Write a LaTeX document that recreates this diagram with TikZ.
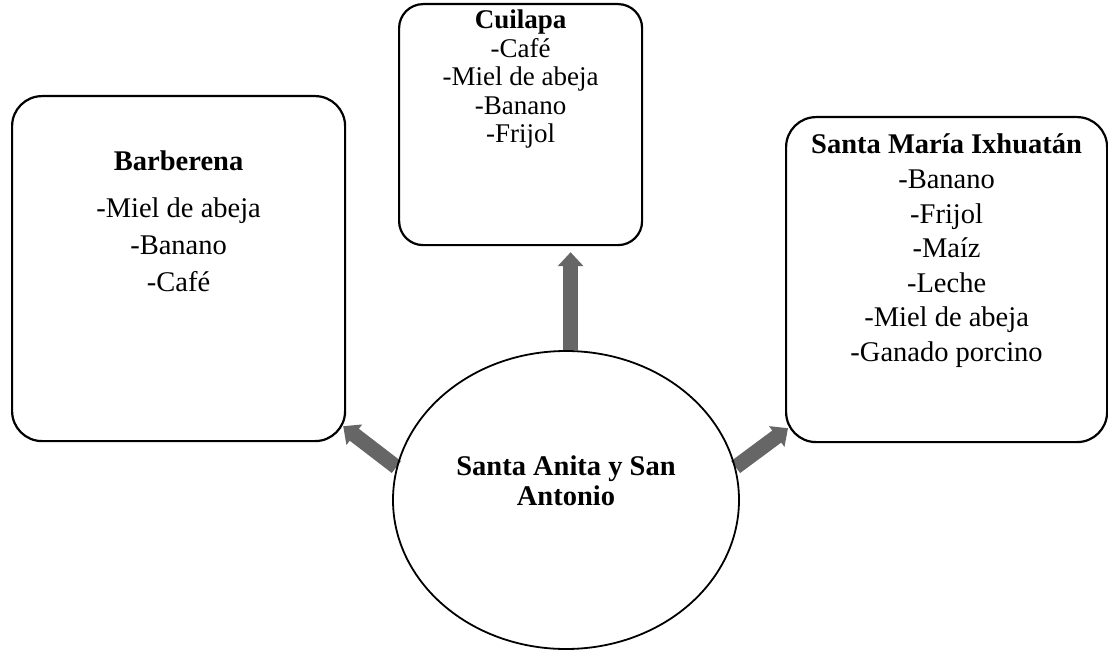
\documentclass[tikz,border=0pt]{standalone}
\usepackage{fontspec}
\setmainfont{Liberation Serif}
\usetikzlibrary{shapes.geometric,arrows.meta,calc}
\pgfdeclarelayer{back}
\pgfsetlayers{back,main}

\begin{document}
\begin{tikzpicture}[x=1pt,y=-1pt,
    town/.style={draw=black,line width=2.2pt,rounded corners=30pt,anchor=north west,inner sep=0pt},
    list/.style={align=center,anchor=north,inner sep=0pt,font=\fontsize{28.5}{37}\selectfont},
    feed/.style={draw=black!60,line width=15pt,-{Triangle[width=25pt,length=14pt]}}]
        \useasboundingbox (0,0) rectangle (1108,650);
        % the three towns
        \node[town,minimum width=333pt,minimum height=345pt] (barb) at (11,95) {};
        \node[town,rounded corners=24pt,minimum width=243pt,minimum height=241pt] (cuil) at (398,3) {};
        \node[town,minimum width=321pt,minimum height=325pt] (sant) at (785,116) {};
        \node[list] (barbtext) at ($(barb.north)+(0,56)$) {\textbf{Barberena}\\[10pt]-Miel de abeja\\-Banano\\-Café};
        \node[list,font=\fontsize{27}{28.5}\selectfont] (cuiltext) at ($(cuil.north)+(0,7)$) {\textbf{Cuilapa}\\-Café\\-Miel de abeja\\-Banano\\-Frijol};
        \node[list,font=\fontsize{28.5}{34.5}\selectfont] (santtext) at ($(sant.north)+(0,17)$) {\textbf{Santa María Ixhuatán}\\[1pt]-Banano\\-Frijol\\-Maíz\\-Leche\\-Miel de abeja\\-Ganado porcino};
        % the centre
        \node[draw,ellipse,line width=1.8pt,minimum width=346pt,minimum height=298pt,inner sep=0pt] (hub) at (566,500) {};
        \node[list,font=\fontsize{28.5}{30}\selectfont\bfseries] (hubtext) at ($(hub.north)+(0,105)$) {Santa Anita y San\\Antonio};
        % arrows out of the centre
        \coordinate (cuiltip) at ($(cuil.south)+(50,6)$);
        \coordinate (barbtip) at ($(barb.south east)+(-3,-16)$);
        \coordinate (santtip) at ($(sant.south west)+(3,-15)$);
        \begin{pgfonlayer}{back}
        \draw[feed] (hub.north -| cuiltip) -- (cuiltip);
        \draw[feed] (hub.169) -- (barbtip);
        \draw[feed] (hub.11) -- (santtip);
        \end{pgfonlayer}
\end{tikzpicture}
\end{document}
